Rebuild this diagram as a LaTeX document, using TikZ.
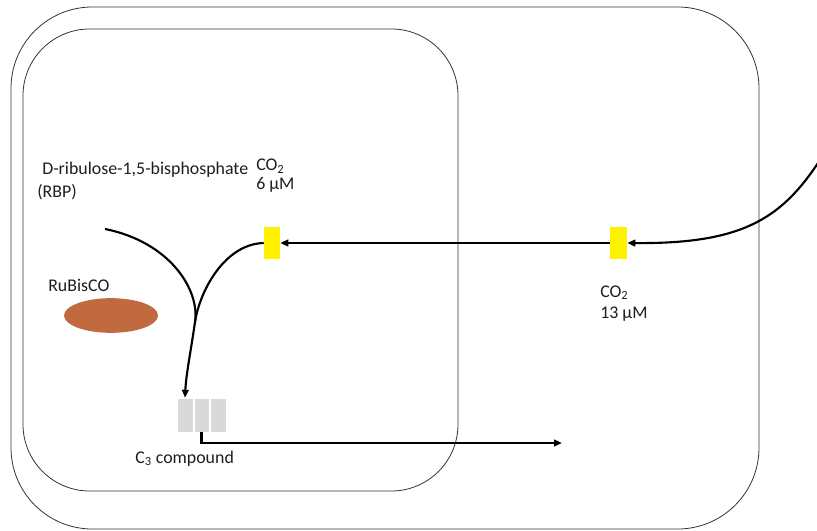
\documentclass[tikz,border=0pt]{standalone}
\usepackage{fontspec}
\setmainfont{Carlito}
\usetikzlibrary{arrows.meta,shapes.geometric}
\definecolor{rubisco}{RGB}{193,106,64}
\definecolor{cthree}{RGB}{217,217,217}
\definecolor{txt}{RGB}{30,30,30}
\tikzset{
  membrane/.style={draw=black!80, line width=0.6pt},
  flow/.style={line width=1.6pt, -{Triangle[length=6pt,width=5pt]}},
  flowline/.style={line width=1.6pt},
  lbl/.style={anchor=base west, inner sep=0pt, text=txt, font=\fontsize{13.4pt}{15pt}\selectfont},
  porter/.style={fill=yellow, draw=none, minimum width=12pt, minimum height=24.5pt, inner sep=0pt},
  cbox/.style={fill=cthree, draw=white, line width=0.4pt, minimum width=12pt, minimum height=25.5pt, inner sep=0pt}
}
\begin{document}
\begin{tikzpicture}[x=0.75pt,y=-0.75pt]
\useasboundingbox (0,0) rectangle (817,531);
% membranes
\draw[membrane, rounded corners=61pt] (11,7) rectangle (759,529);
\draw[membrane, rounded corners=50pt] (23,29) rectangle (458,491);
% transporters
\node[porter] (y1) at (272,243) {};
\node[porter, minimum width=12.75pt] (y2) at (618.5,243) {};
% RuBisCO
\node[ellipse, fill=rubisco, draw=none, minimum width=70.5pt, minimum height=26pt, inner sep=0pt] (rub) at (111,315.5) {};
% C3 compound boxes
\node[cbox] (c1) at (185,415) {};
\node[cbox, minimum width=11.25pt] (c2) at (201.5,415) {};
\node[cbox] (c3) at (218.5,415) {};
% coordinates
\coordinate (rbpstart) at (105,229);
\coordinate (merge) at (195,322);
\coordinate (outside) at (818,163);
\coordinate (exportend) at (562,443);
% connectors
\draw[flow] (outside) .. controls (780,220) and (740,244) .. (y2.east);
\draw[flow] (y2.west) -- (y1.east);
\draw[flowline] (y1.west) .. controls (225,244) and (200,290) .. (merge);
\draw[flow] (rbpstart) .. controls (170,242) and (200,290) .. (merge) .. controls (191,350) and (186,375) .. (c1.north);
\draw[flow] (c2.south) |- (exportend);
% labels
\node[lbl] (rbp) at (42,175) {D-ribulose-1,5-bisphosphate};
\node[lbl] (rbpab) at (37,198) {(RBP)};
\node[lbl] (co2in) at (256,171) {CO\textsubscript{2}};
\node[lbl] (co2inc) at (256,190) {6 µM};
\node[lbl] (rublbl) at (48,291) {RuBisCO};
\node[lbl] (co2out) at (600,297) {CO\textsubscript{2}};
\node[lbl] (co2outc) at (600,318) {13 µM};
\node[lbl] (c3lbl) at (135,463) {C\textsubscript{3} compound};
\end{tikzpicture}
\end{document}
